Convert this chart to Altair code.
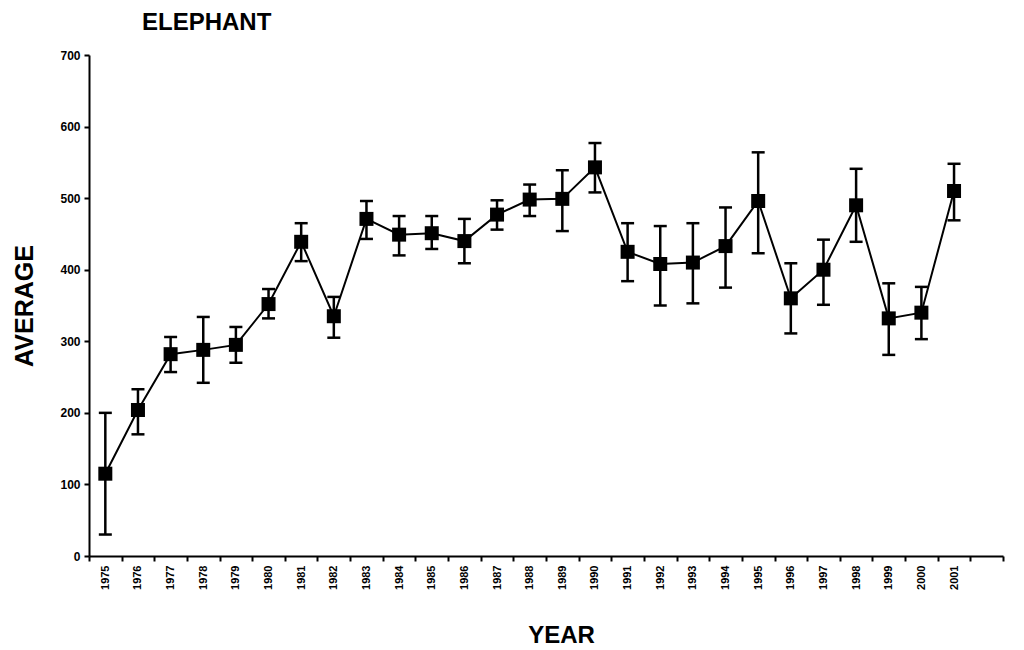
import altair as alt
import pandas as pd

years = list(range(1975, 2002))
avg = [115, 204, 282, 288, 295, 352, 439, 335, 471, 449, 451, 440, 477, 498, 499,
       543, 425, 408, 410, 433, 496, 360, 400, 490, 332, 340, 510]
lo = [30, 170, 257, 242, 270, 332, 412, 305, 443, 420, 429, 409, 456, 475, 454,
      508, 384, 350, 353, 375, 423, 311, 351, 439, 281, 303, 469]
hi = [200, 233, 306, 334, 320, 373, 465, 362, 496, 475, 475, 471, 497, 519, 539,
      577, 465, 461, 465, 487, 564, 409, 442, 541, 381, 376, 548]
x_domain = years + [2002]

df = pd.DataFrame({"year": years, "avg": avg, "lo": lo, "hi": hi})

FONT = "Liberation Sans"

x_enc = alt.X(
    "year:O",
    scale=alt.Scale(type="band", domain=x_domain, paddingInner=0, paddingOuter=0),
    axis=alt.Axis(
        title="YEAR", titleFontSize=24, titleFont=FONT, titleFontWeight="bold",
        titleColor="black", titleX=472, titlePadding=34,
        labelAngle=270, labelFontSize=11, labelFont=FONT, labelFontWeight="bold",
        labelColor="black", labelPadding=4,
        labelExpr="datum.value == 2002 ? '' : datum.label",
        tickBand="extent", tickSize=5, tickWidth=2, tickColor="black",
        domainColor="black", domainWidth=2, grid=False,
    ),
)
y_scale = alt.Scale(domain=[0, 700], nice=False)
y_axis = alt.Axis(
    title="AVERAGE", titleFontSize=25, titleFont=FONT, titleFontWeight="bold",
    titleColor="black", titlePadding=22,
    values=[0, 100, 200, 300, 400, 500, 600, 700],
    labelFontSize=12, labelFont=FONT, labelFontWeight="bold", labelColor="black",
    labelPadding=4,
    tickSize=5, tickWidth=2, tickColor="black",
    domainColor="black", domainWidth=2, grid=False,
)

base = alt.Chart(df)

bars = base.mark_rule(color="black", strokeWidth=2.5).encode(
    x=x_enc, y=alt.Y("lo:Q", scale=y_scale, axis=y_axis), y2="hi:Q"
)
cap_lo = base.mark_tick(color="black", size=13, thickness=2.5, opacity=1).encode(
    x=x_enc, y=alt.Y("lo:Q", scale=y_scale, axis=y_axis)
)
cap_hi = base.mark_tick(color="black", size=13, thickness=2.5, opacity=1).encode(
    x=x_enc, y=alt.Y("hi:Q", scale=y_scale, axis=y_axis)
)
line = base.mark_line(color="black", strokeWidth=2).encode(
    x=x_enc, y=alt.Y("avg:Q", scale=y_scale, axis=y_axis)
)
pts = base.mark_square(color="black", size=196, filled=True, opacity=1).encode(
    x=x_enc, y=alt.Y("avg:Q", scale=y_scale, axis=y_axis)
)

chart = alt.layer(bars, cap_lo, cap_hi, line, pts).properties(
    width=914, height=501,
    title=alt.TitleParams("ELEPHANT", anchor="start", frame="group", dx=53,
                          fontSize=24, font=FONT, fontWeight="bold", color="black",
                          offset=14),
    padding={"left": 89, "top": 55, "right": 21, "bottom": 94},
    autosize="none",
    background="white",
).configure_view(stroke=None)

chart.save("out.html", embed_options={"renderer": "svg", "actions": False})
